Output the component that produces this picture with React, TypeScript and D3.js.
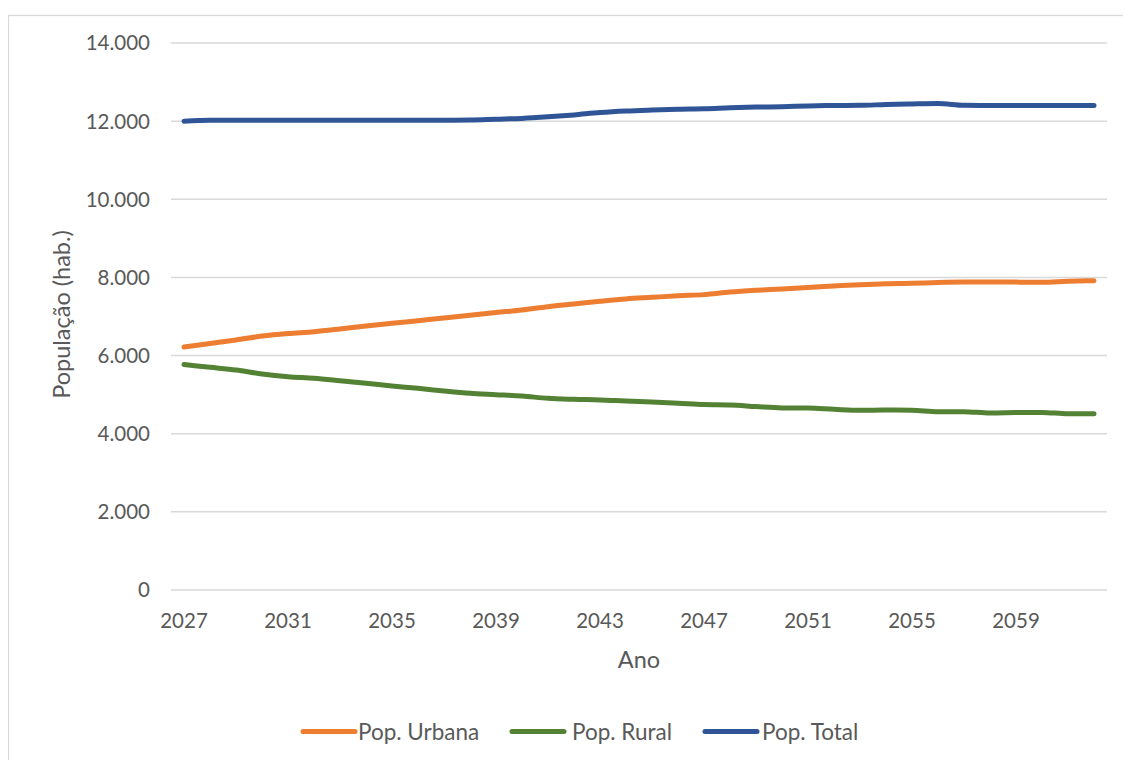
import React from "react";
import * as d3 from "d3";

const years: number[] = [
  2027, 2028, 2029, 2030, 2031, 2032, 2033, 2034, 2035, 2036, 2037, 2038,
  2039, 2040, 2041, 2042, 2043, 2044, 2045, 2046, 2047, 2048, 2049, 2050,
  2051, 2052, 2053, 2054, 2055, 2056, 2057, 2058, 2059, 2060, 2061, 2062,
];

const urbana: number[] = [
  6220, 6310, 6400, 6500, 6565, 6610, 6680, 6757, 6825, 6893, 6962, 7030,
  7100, 7167, 7250, 7320, 7389, 7450, 7490, 7530, 7560, 7625, 7670, 7705,
  7745, 7780, 7815, 7840, 7850, 7870, 7880, 7880, 7880, 7875, 7900, 7915,
];

const rural: number[] = [
  5770, 5700, 5630, 5530, 5460, 5420, 5357, 5290, 5221, 5162, 5093, 5034,
  5000, 4965, 4906, 4881, 4865, 4835, 4810, 4780, 4745, 4735, 4695, 4660,
  4655, 4625, 4600, 4605, 4600, 4565, 4565, 4530, 4540, 4545, 4510, 4510,
];

const total: number[] = [
  12000, 12020, 12025, 12025, 12025, 12025, 12025, 12025, 12025, 12025, 12025, 12030,
  12050, 12070, 12110, 12160, 12220, 12260, 12285, 12305, 12315, 12340, 12360, 12370,
  12390, 12400, 12405, 12425, 12440, 12450, 12405, 12400, 12400, 12400, 12400, 12400,
];

const yTicks: number[] = [0, 2000, 4000, 6000, 8000, 10000, 12000, 14000];
const xTickYears: number[] = [2027, 2031, 2035, 2039, 2043, 2047, 2051, 2055, 2059];

const seriesNames: string[] = ["Pop. Urbana", "Pop. Rural", "Pop. Total"];
const seriesColors: string[] = ["#ED7D31", "#548235", "#2F5597"];

const W = 1123;
const H = 752;
// plot area in svg coords (svg at page offset 8,8)
const plotLeft = 163;
const plotRight = 1099;
const plotTop = 35;
const plotBottom = 582;

const FONT = "Lato, 'Open Sans', sans-serif";
const TEXT_COLOR = "#595959";

export default function App() {
  const x = d3
    .scaleBand<number>()
    .domain(years)
    .range([plotLeft, plotRight]);
  const xc = (yr: number) => (x(yr) as number) + x.bandwidth() / 2;
  const y = d3.scaleLinear().domain([0, 14000]).range([plotBottom, plotTop]);
  const fmt = (v: number) =>
    v === 0 ? "0" : d3.format(",")(v).replace(/,/g, ".");

  const data = [urbana, rural, total];
  const line = d3
    .line<number>()
    .x((_, i) => xc(years[i]))
    .y((d) => y(d))
    .curve(d3.curveMonotoneX);

  const legendItems = [
    { lx: 295, tx: 350 },
    { lx: 504, tx: 564 },
    { lx: 697, tx: 754 },
  ];
  const legendY = 723.5;

  return (
    <svg width={W} height={H} style={{ display: "block" }}>
      <rect x={0} y={0} width={W} height={H} fill="#ffffff" />
      <rect
        x={0.5}
        y={7.5}
        width={W + 10}
        height={H + 10}
        fill="none"
        stroke="#D9D9D9"
        strokeWidth={1.3}
      />
      {yTicks.map((t) => (
        <g key={t}>
          <line
            x1={plotLeft}
            x2={plotRight}
            y1={y(t)}
            y2={y(t)}
            stroke="#D9D9D9"
            strokeWidth={1.5}
          />
          <text
            x={142}
            y={y(t)}
            dy="0.36em"
            textAnchor="end"
            fontFamily={FONT}
            fontSize={20.5}
            fill={TEXT_COLOR}
          >
            {fmt(t)}
          </text>
        </g>
      ))}
      {xTickYears.map((yr) => (
        <text
          key={yr}
          x={xc(yr)}
          y={613}
          dy="0.36em"
          textAnchor="middle"
          fontFamily={FONT}
          fontSize={20.5}
          fill={TEXT_COLOR}
        >
          {yr}
        </text>
      ))}
      <text
        x={631}
        y={652}
        dy="0.36em"
        textAnchor="middle"
        fontFamily={FONT}
        fontSize={23.5}
        fill={TEXT_COLOR}
      >
        Ano
      </text>
      <text
        transform={`translate(54, ${(plotTop + plotBottom) / 2 - 2}) rotate(-90)`}
        dy="0.36em"
        textAnchor="middle"
        fontFamily={FONT}
        fontSize={23.5}
        fill={TEXT_COLOR}
      >
        População (hab.)
      </text>
      {data.map((s, i) => (
        <path
          key={i}
          d={line(s) || ""}
          fill="none"
          stroke={seriesColors[i]}
          strokeWidth={5}
          strokeLinecap="round"
          strokeLinejoin="round"
        />
      ))}
      {seriesNames.map((n, i) => (
        <g key={n}>
          <line
            x1={legendItems[i].lx}
            x2={legendItems[i].lx + 52}
            y1={legendY}
            y2={legendY}
            stroke={seriesColors[i]}
            strokeWidth={5}
            strokeLinecap="round"
          />
          <text
            x={legendItems[i].tx}
            y={legendY}
            dy="0.36em"
            fontFamily={FONT}
            fontSize={22.5}
            fill={TEXT_COLOR}
          >
            {n}
          </text>
        </g>
      ))}
    </svg>
  );
}
